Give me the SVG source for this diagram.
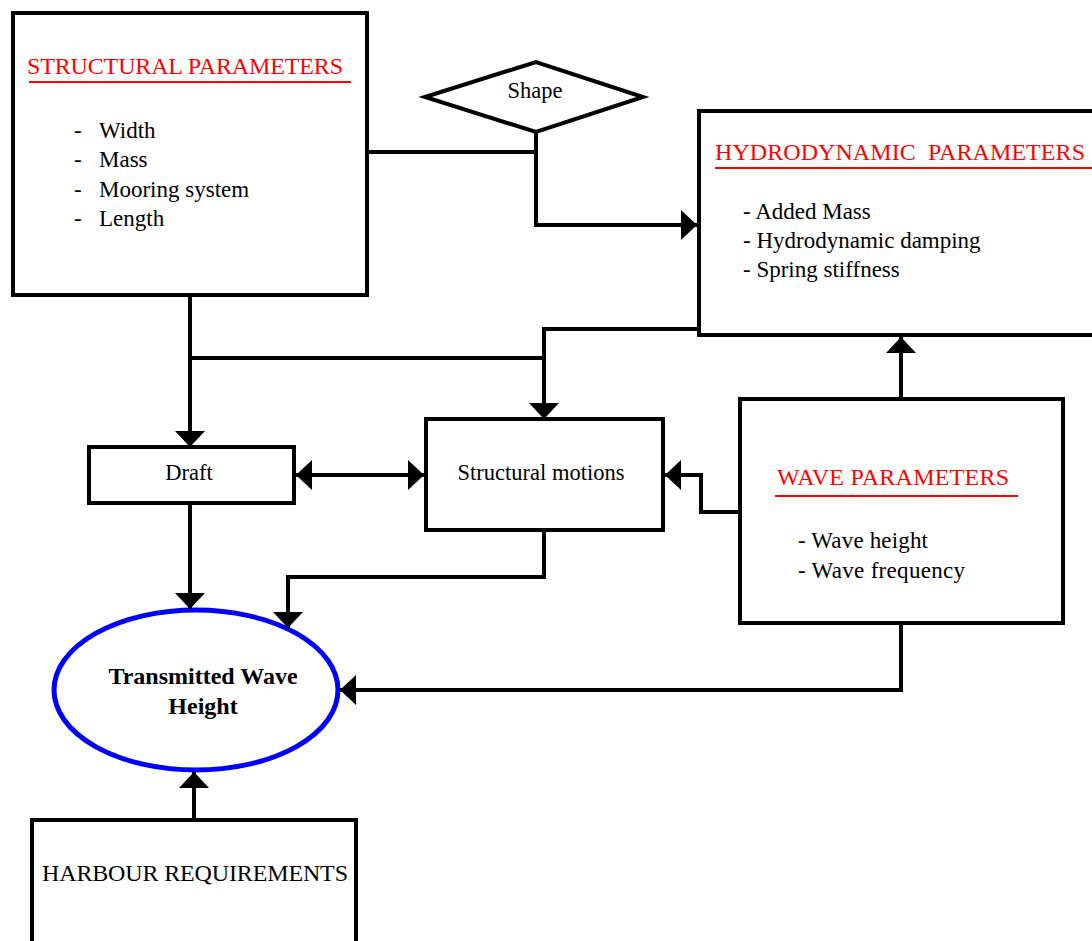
<svg xmlns="http://www.w3.org/2000/svg" width="1092" height="941" viewBox="0 0 1092 941">
<style>
.box{fill:#fff;stroke:#000;stroke-width:4}
.t{font-family:"Liberation Serif","Times New Roman",serif;font-size:23px;fill:#000}
.s{font-size:22.5px}
.h{font-size:24px}
.red{fill:#ff0000}
.ul{stroke:#ff0000;stroke-width:2}
.c{text-anchor:middle}
.ln{fill:none;stroke:#000;stroke-width:4}
</style>
<defs>
<marker id="ah" viewBox="0 0 16 30" markerWidth="16" markerHeight="30" refX="16" refY="15" orient="auto-start-reverse" markerUnits="userSpaceOnUse">
<path d="M0,0 L16,15 L0,30 z" fill="#000"/>
</marker>
</defs>
<rect width="1092" height="941" fill="#fff"/>
<g id="structural">
<rect class="box" x="13" y="13" width="354" height="282"/>
<text class="t h red" x="27" y="74" textLength="316">STRUCTURAL PARAMETERS</text>
<line class="ul" x1="29" y1="82" x2="351" y2="82"/>
<text class="t" x="74" y="138">-</text><text class="t" x="99" y="138">Width</text>
<text class="t" x="74" y="167">-</text><text class="t" x="99" y="167">Mass</text>
<text class="t" x="74" y="197">-</text><text class="t" x="99" y="197">Mooring system</text>
<text class="t" x="74" y="226">-</text><text class="t" x="99" y="226">Length</text>
</g>
<g id="shape">
<polygon class="box" points="425,97 536,62 643,97 536,132"/>
<text class="t s c" x="535" y="98">Shape</text>
</g>
<g id="hydrodynamic">
<rect class="box" x="699" y="111" width="420" height="224"/>
<text class="t h red" x="715" y="160" xml:space="preserve" textLength="370">HYDRODYNAMIC  PARAMETERS</text>
<line class="ul" x1="715" y1="168" x2="1092" y2="168"/>
<text class="t" x="743" y="219">- Added Mass</text>
<text class="t" x="743" y="248">- Hydrodynamic damping</text>
<text class="t" x="743" y="277">- Spring stiffness</text>
</g>
<g id="draft">
<rect class="box" x="89" y="447" width="205" height="56"/>
<text class="t s c" x="189" y="480">Draft</text>
</g>
<g id="motions">
<rect class="box" x="426" y="419" width="237" height="111"/>
<text class="t s c" x="541" y="480">Structural motions</text>
</g>
<g id="wave">
<rect class="box" x="740" y="399" width="323" height="224"/>
<text class="t h red" x="777" y="485" textLength="232">WAVE PARAMETERS</text>
<line class="ul" x1="775" y1="496" x2="1018" y2="496"/>
<text class="t" x="798" y="548" textLength="130">- Wave height</text>
<text class="t" x="798" y="578" textLength="167">- Wave frequency</text>
</g>
<g id="transmitted">
<ellipse cx="196" cy="690" rx="142" ry="80" fill="#fff" stroke="#0000ff" stroke-width="5"/>
<text class="t h c" x="203" y="684" font-weight="bold">Transmitted Wave</text>
<text class="t h c" x="203" y="714" font-weight="bold">Height</text>
</g>
<g id="harbour">
<rect class="box" x="32" y="820" width="324" height="140"/>
<text class="t h" x="42" y="881" textLength="306">HARBOUR REQUIREMENTS</text>
</g>
<g id="connectors">
<path class="ln" d="M367,152 H536"/>
<path class="ln" d="M536,132 V225 H697" marker-end="url(#ah)"/>
<path class="ln" d="M190,295 V447" marker-end="url(#ah)"/>
<path class="ln" d="M190,358 H544"/>
<path class="ln" d="M699,329 H544 V419" marker-end="url(#ah)"/>
<path class="ln" d="M296,475 H424" marker-start="url(#ah)" marker-end="url(#ah)"/>
<path class="ln" d="M740,512 H701 V475 H665" marker-end="url(#ah)"/>
<path class="ln" d="M901,399 V337" marker-end="url(#ah)"/>
<path class="ln" d="M190,503 V609" marker-end="url(#ah)"/>
<path class="ln" d="M544,530 V577 H288 V628" marker-end="url(#ah)"/>
<path class="ln" d="M901,623 V690 H340" marker-end="url(#ah)"/>
<path class="ln" d="M194,820 V772" marker-end="url(#ah)"/>
</g>
</svg>
